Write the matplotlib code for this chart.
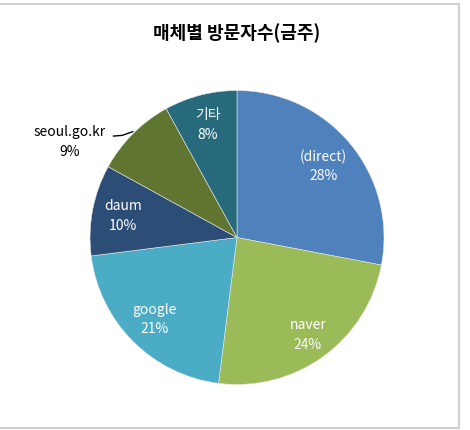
import matplotlib
matplotlib.use('Agg')
import numpy as np
from matplotlib import pyplot as plt
from matplotlib.patches import Rectangle

plt.rcParams['font.family'] = ['Noto Sans CJK KR', 'DejaVu Sans']

# 매체별 방문자수 (금주)
labels = ['(direct)', 'naver', 'google', 'daum', 'seoul.go.kr', '기타']
shares = [28, 24, 21, 10, 9, 8]
colors = ['#4F81BD', '#9BBB59', '#4BACC6', '#2C4D75', '#607530', '#276A7C']

fig = plt.figure(figsize=(4.7, 4.3), dpi=100)

# 바깥 테두리
fig.patches.append(Rectangle((-0.01, 0.0047), 0.9866, 0.986, transform=fig.transFigure,
                             fill=False, edgecolor='#D0D0D0', linewidth=1.5))

ax = fig.add_axes([0.1915, 0.1058, 0.6255, 0.6837])
wedges, _ = ax.pie(shares, colors=colors, startangle=90, counterclock=False,
                   radius=1, wedgeprops=dict(edgecolor='#E8E8E8', linewidth=0.4))
ax.set_xlim(-1, 1)
ax.set_ylim(-1, 1)
ax.set_aspect('equal')
ax.axis('off')

# 레이블 위치 (중심으로부터 거리 비율)
label_r = [0.76, 0.82, 0.79, 0.79, 1.3, 0.79]
for w, lab, s, r in zip(wedges, labels, shares, label_r):
    ang = np.deg2rad((w.theta1 + w.theta2) / 2)
    x, y = r * np.cos(ang), r * np.sin(ang)
    if lab == 'seoul.go.kr':
        x, y = -1.14, 0.65
        ax.plot([-0.84, -0.78, -0.71], [0.69, 0.695, 0.72], color='black', lw=1,
                clip_on=False)
        ax.text(x, y, f'{lab}\n{s}%', ha='center', va='center', fontsize=10,
                color='black', linespacing=1.5)
    else:
        ax.text(x, y, f'{lab}\n{s}%', ha='center', va='center', fontsize=10,
                color='white', linespacing=1.5)

fig.text(0.504, 0.923, '매체별 방문자수(금주)', ha='center', va='center',
         fontsize=13, fontweight='bold')

fig.savefig('out.png', dpi=100)
